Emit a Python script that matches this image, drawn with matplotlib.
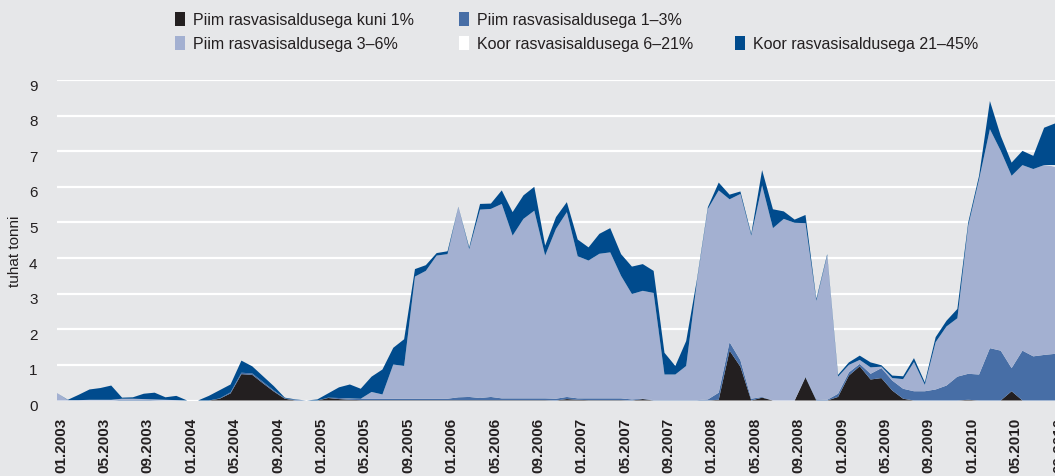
import numpy as np
import matplotlib
matplotlib.use("Agg")
import matplotlib.pyplot as plt
from matplotlib.patches import Rectangle
from matplotlib.transforms import ScaledTranslation

plt.rcParams['font.family'] = ['Liberation Sans', 'DejaVu Sans']

# kuud 01.2003 ... 09.2010, tuhat tonni
black = [
    0, 0, 0, 0, 0, 0, 0, 0, 0, 0,
    0, 0, 0, 0, 0, 0.05, 0.20, 0.74, 0.72, 0.48,
    0.25, 0.05, 0, 0, 0, 0.07, 0.04, 0.02, 0.01, 0.01,
    0.01, 0.01, 0.01, 0.01, 0.01, 0.01, 0.01, 0.01, 0.01, 0.01,
    0.01, 0.01, 0.01, 0.01, 0.01, 0.01, 0, 0.04, 0.02, 0.01,
    0.01, 0.01, 0.01, 0, 0.04, 0, 0, 0, 0, 0,
    0, 0.02, 1.40, 0.95, 0, 0.08, 0, 0, 0, 0.65,
    0, 0, 0.10, 0.70, 0.96, 0.59, 0.63, 0.28, 0.05, 0,
    0, 0, 0, 0, 0.02, 0, 0, 0, 0.26, 0,
    0, 0, 0,
]
mid = [
    0, 0, 0, 0, 0, 0, 0.02, 0.02, 0.02, 0.01,
    0, 0, 0, 0, 0, 0.01, 0.03, 0.04, 0.04, 0.04,
    0.03, 0.01, 0.02, 0, 0, 0.01, 0.03, 0.03, 0.04, 0.04,
    0.04, 0.04, 0.04, 0.04, 0.04, 0.04, 0.04, 0.08, 0.09, 0.06,
    0.09, 0.05, 0.05, 0.05, 0.05, 0.05, 0.05, 0.06, 0.04, 0.05,
    0.05, 0.05, 0.05, 0.03, 0.01, 0.01, 0.01, 0.01, 0.01, 0.01,
    0.03, 0.20, 0.24, 0.18, 0.05, 0.02, 0, 0, 0, 0.02,
    0.03, 0.02, 0.09, 0.09, 0.07, 0.16, 0.28, 0.28, 0.28, 0.26,
    0.26, 0.31, 0.42, 0.67, 0.73, 0.73, 1.47, 1.40, 0.65, 1.40,
    1.24, 1.28, 1.31,
]
light = [
    0.21, 0.01, 0.01, 0.02, 0.02, 0.02, 0.03, 0.03, 0.02, 0.02,
    0.02, 0.01, 0, 0, 0, 0, 0, 0, 0, 0,
    0, 0, 0, 0, 0, 0, 0, 0.01, 0, 0.19,
    0.12, 0.96, 0.92, 3.43, 3.59, 4.02, 4.06, 5.34, 4.15, 5.29,
    5.28, 5.46, 4.57, 5.04, 5.27, 4.01, 4.77, 5.19, 3.99, 3.87,
    4.06, 4.10, 3.44, 2.96, 3.03, 3.01, 0.72, 0.72, 0.96, 3.35,
    5.35, 5.68, 4.01, 4.67, 4.58, 5.94, 4.84, 5.10, 4.99, 4.31,
    2.77, 4.05, 0.48, 0.21, 0.11, 0.18, 0.04, 0.07, 0.27, 0.82,
    0.18, 1.33, 1.66, 1.64, 4.16, 5.48, 6.15, 5.61, 5.40, 5.21,
    5.26, 5.33, 5.26,
]
white = [0] * 92 + [0.04]
dark = [
    0, 0.01, 0.15, 0.29, 0.33, 0.40, 0.03, 0.04, 0.15, 0.19,
    0.07, 0.12, 0, 0, 0.13, 0.23, 0.22, 0.34, 0.20, 0.16,
    0.12, 0.02, 0.01, 0, 0.03, 0.12, 0.30, 0.39, 0.28, 0.43,
    0.70, 0.47, 0.75, 0.21, 0.16, 0.07, 0.08, 0.01, 0.05, 0.16,
    0.15, 0.38, 0.66, 0.66, 0.67, 0.28, 0.33, 0.28, 0.47, 0.37,
    0.56, 0.68, 0.61, 0.77, 0.75, 0.62, 0.61, 0.24, 0.70, 0.05,
    0.05, 0.22, 0.13, 0.07, 0.05, 0.43, 0.53, 0.21, 0.09, 0.23,
    0.05, 0.04, 0.05, 0.07, 0.12, 0.14, 0.04, 0.07, 0.08, 0.11,
    0.07, 0.14, 0.16, 0.26, 0.09, 0.10, 0.79, 0.42, 0.37, 0.40,
    0.37, 1.05, 1.17,
]

labels = ["Piim rasvasisaldusega kuni 1%", "Piim rasvasisaldusega 1–3%",
          "Piim rasvasisaldusega 3–6%", "Koor rasvasisaldusega 6–21%",
          "Koor rasvasisaldusega 21–45%"]
colors = ["#231f20", "#476ea6", "#a3b0d1", "#ffffff", "#004b8d"]

tick_labels = ["01.2003", "05.2003", "09.2003", "01.2004", "05.2004", "09.2004",
               "01.2005", "05.2005", "09.2005", "01.2006", "05.2006", "09.2006",
               "01.2007", "05.2007", "09.2007", "01.2008", "05.2008", "09.2008",
               "01.2009", "05.2009", "09.2009", "01.2010", "05.2010", "09.2010"]

bg = "#e6e7e9"
txt = "#231f20"

fig = plt.figure(figsize=(10.55, 4.77), dpi=100, facecolor=bg)
ax = fig.add_axes([57 / 1055, 75.5 / 477, 1 - 57 / 1055, 320.5 / 477])
ax.set_facecolor(bg)

x = np.arange(len(black))
ax.stackplot(x, black, mid, light, white, dark, colors=colors, linewidth=0)

ax.set_xlim(0, 92)
ax.set_ylim(0, 9)
ax.set_yticks(range(10))
ax.set_xticks(x[::4])
ax.set_xticklabels(tick_labels, rotation=90, fontsize=11, fontweight='bold',
                   color=txt, ha='center', va='top')
ax.tick_params(axis='both', length=0)
ax.tick_params(axis='x', pad=12)
ax.tick_params(axis='y', pad=14, labelsize=11, labelcolor=txt)
ax.grid(axis='y', color='white', linewidth=1.6)
ax.set_axisbelow(True)
for s in ax.spines.values():
    s.set_visible(False)

for lab in ax.get_xticklabels():
    lab.set_transform(lab.get_transform() + ScaledTranslation(4 / 100, 0, fig.dpi_scale_trans))
for lab in ax.get_yticklabels():
    lab.set_transform(lab.get_transform() + ScaledTranslation(0, -4 / 100, fig.dpi_scale_trans))

ax.set_ylabel("tuhat tonni", fontsize=11, color=txt)
ax.yaxis.set_label_coords(-0.035, 0.47)

# legend, 2 rida
leg_pos = [(175, 20), (459, 20), (175, 44), (459, 44), (735, 44)]
for (px, py), lab, col in zip(leg_pos, labels, colors):
    fig.patches.append(Rectangle((px / 1055, 1 - (py + 7) / 477), 10 / 1055, 14 / 477,
                                 transform=fig.transFigure, facecolor=col,
                                 edgecolor='none'))
    fig.text((px + 18) / 1055, 1 - py / 477, lab, fontsize=11.5, color=txt,
             va='center', ha='left')

fig.savefig("out.png", dpi=100, facecolor=bg)
